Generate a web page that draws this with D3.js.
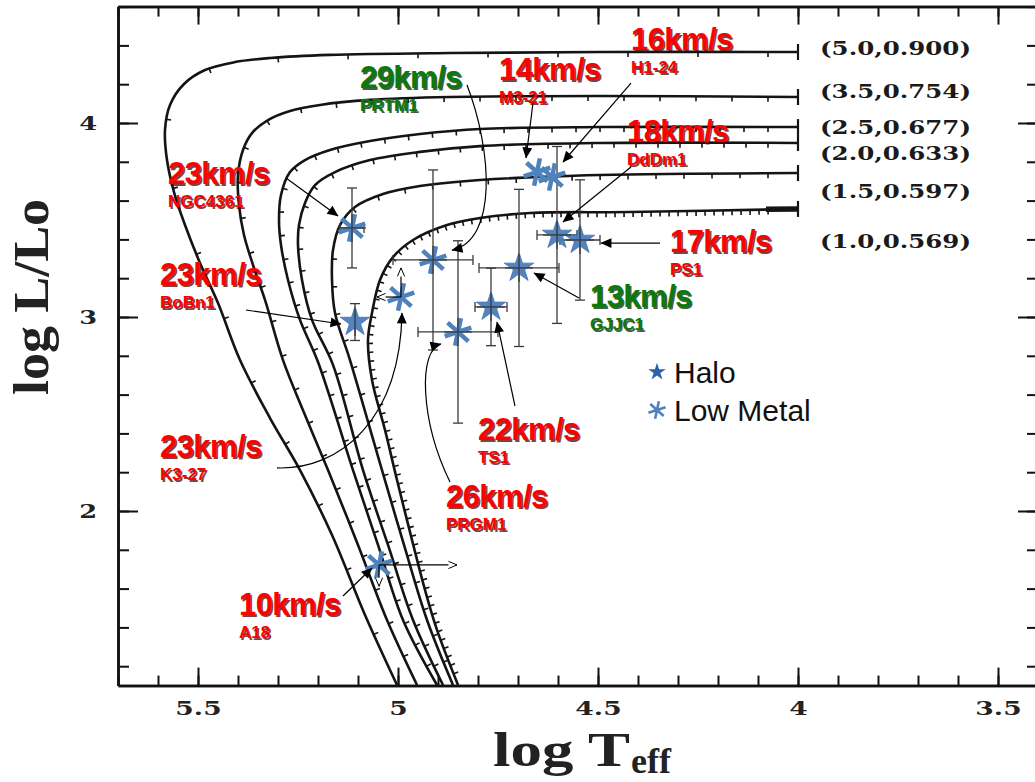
<!DOCTYPE html>
<html>
<head>
<meta charset="utf-8">
<script src="https://cdn.jsdelivr.net/npm/d3@7"></script>
<style>
  body { margin: 0; background: #fff; }
</style>
</head>
<body>
<svg id="hr" width="1035" height="782"></svg>
<script>
// [A] Datos ------------------------------------------------------------------
// Trazas evolutivas post-AGB [logTeff, logL]
const trackNames = ["(5.0,0.900)", "(3.5,0.754)", "(2.5,0.677)", "(2.0,0.633)", "(1.5,0.597)", "(1.0,0.569)"];
const trackLabelL = [4.387, 4.165, 3.979, 3.845, 3.649, 3.392];

const track50 = [[4.0,4.366],[4.495,4.366],[4.87,4.361],[5.17,4.351],[5.32,4.335],[5.4075,4.314],[5.4825,4.273],[5.535,4.201],[5.57,4.093],[5.5825,3.964],[5.5775,3.809],[5.56,3.644],[5.5325,3.474],[5.495,3.278],[5.45,3.072],[5.395,2.778],[5.32,2.479],[5.245,2.211],[5.165,1.876],[5.0825,1.464],[5.0025,1.103]];
const track35 = [[4.0,4.134],[4.495,4.139],[4.87,4.134],[5.07,4.119],[5.195,4.093],[5.27,4.062],[5.325,4.015],[5.365,3.948],[5.3875,3.861],[5.4,3.732],[5.3975,3.577],[5.385,3.423],[5.3625,3.268],[5.3325,3.088],[5.2875,2.778],[5.2325,2.495],[5.175,2.211],[5.1,1.825],[5.0275,1.438],[4.9525,1.103]];
const track25 = [[4.0,3.979],[4.495,3.979],[4.795,3.969],[4.945,3.943],[5.07,3.907],[5.17,3.861],[5.2325,3.809],[5.27,3.747],[5.2925,3.629],[5.2975,3.5],[5.2925,3.371],[5.275,3.191],[5.245,2.985],[5.2,2.768],[5.1125,2.211],[5.05,1.825],[4.9875,1.438],[4.9025,1.103]];
const track20 = [[4.0,3.897],[4.495,3.897],[4.795,3.881],[4.945,3.851],[5.07,3.809],[5.1575,3.747],[5.2075,3.680],[5.2325,3.588],[5.2475,3.474],[5.25,3.371],[5.24,3.191],[5.215,2.985],[5.1625,2.753],[5.0875,2.211],[5.025,1.825],[4.9625,1.438],[4.8875,1.103]];
const track15 = [[4.0,3.742],[4.495,3.732],[4.795,3.706],[4.945,3.675],[5.0375,3.634],[5.1075,3.567],[5.145,3.474],[5.1625,3.345],[5.165,3.191],[5.1575,3.021],[5.12,2.778],[5.04,2.211],[4.985,1.825],[4.9275,1.438],[4.8625,1.103]];
const track10 = [[4.0,3.557],[4.42,3.541],[4.67,3.536],[4.795,3.510],[4.8775,3.474],[4.9625,3.397],[5.0125,3.309],[5.045,3.191],[5.065,3.021],[5.075,2.881],[5.065,2.675],[5.0325,2.418],[5.0025,2.160],[4.965,1.851],[4.9325,1.593],[4.9025,1.387],[4.85,1.103]];
const tracks = [track50, track35, track25, track20, track15, track10];
const thickSegment = [[4.08,3.556],[4.0,3.557]];

// Nebulosas planetarias
const objects  = ["NGC4361","BoBn1","K3-27","PRTM1","PRGM1","TS1","GJJC1","M3-21","H1-24","DdDm1","PS1","A18"];
const kinds    = ["low","halo","low","low","low","halo","halo","low","low","halo","halo","low"];
const logTeff  = [5.115, 5.1075, 4.9925, 4.9125, 4.85, 4.7675, 4.6975, 4.6525, 4.615, 4.6025, 4.545, 5.0475];
const logL     = [3.459, 2.974, 3.103, 3.294, 2.923, 3.052, 3.253, 3.747, 3.722, 3.423, 3.397, 1.722];
const errT     = [0.03, 0, 0, 0.10, 0.10, 0.04, 0.10, 0, 0, 0.05, 0.05, 0];
const errL     = [0.206, 0.095, 0, 0.464, 0.47, 0.2, 0.405, 0, 0, 0.456, 0.31, 0];
const limT     = [0, 0, 0.06, 0, 0, 0, 0, 0, 0, 0, 0, -0.195];   // flechas limite en T
const limL     = [0, 0, 0.15, 0, 0, 0, 0, 0, 0, 0, 0, -0.11];    // flechas limite en L
const velocity = ["23km/s","23km/s","23km/s","29km/s","26km/s","22km/s","13km/s","14km/s","16km/s","18km/s","17km/s","10km/s"];
const velGroup = ["red","red","red","green","red","red","green","red","red","red","red","red"];

// Etiquetas y flechas de anotacion (coordenadas del grafico)
const labelAt = [[5.575,3.686],[5.595,3.165],[5.595,2.278],[5.095,4.180],[4.88,2.021],[4.80,2.366],[4.52,3.052],[4.7475,4.222],[4.4175,4.376],[4.4275,3.902],[4.32,3.335],[5.3975,1.464]];
const arrowPts = [
  [[5.28,3.716],[5.15,3.521]],
  [[5.38,3.036],[5.1425,2.964]],
  [[5.3025,2.222],[5.145,2.211],[4.995,2.469],[4.99,3.021]],
  [[4.8275,4.196],[4.765,3.861],[4.75,3.397],[4.865,3.345]],
  [[4.87,2.149],[4.945,2.469],[4.95,2.830],[4.8925,2.861]],
  [[4.7075,2.541],[4.7525,2.974]],
  [[4.5475,3.098],[4.66,3.227]],
  [[4.6625,4.103],[4.68,3.820]],
  [[4.4175,4.206],[4.5875,3.799]],
  [[4.4175,3.773],[4.5875,3.490]],
  [[4.345,3.381],[4.4925,3.381]],
  [[5.1375,1.562],[5.065,1.706]]
];

// Ejes
const xMajor = [5.5, 5, 4.5, 4, 3.5];
const xMinor = d3.range(34, 58).map(d => d / 10);
const yMajor = [2, 3, 4];
const yMinor = d3.range(6, 24).map(d => d / 5);

const legendNames = ["Halo", "Low Metal"];

// [B] Configuracion ------------------------------------------------------------
const svg = d3.select("#hr");
const x = d3.scaleLinear().domain([5.7, 3.4]).range([118, 1038]);
const y = d3.scaleLinear().domain([1.1, 4.6]).range([685.6, 6.6]);

const colors = { red: "#ff0000", green: "#0b7a0b" };
const shadows = { red: "#5a0000", green: "#052a05" };
const blue = "#4a7ebd";

const defs = svg.append("defs");
defs.append("marker").attr("id", "headFill")
  .attr("viewBox", "0 0 10 10").attr("refX", 9.5).attr("refY", 5)
  .attr("markerWidth", 13).attr("markerHeight", 11)
  .attr("markerUnits", "userSpaceOnUse").attr("orient", "auto")
  .append("path").attr("d", "M0,0.5 L10,5 L0,9.5 Z").attr("fill", "#000");
defs.append("marker").attr("id", "headOpen")
  .attr("viewBox", "0 0 10 10").attr("refX", 9.5).attr("refY", 5)
  .attr("markerWidth", 11).attr("markerHeight", 9)
  .attr("markerUnits", "userSpaceOnUse").attr("orient", "auto")
  .append("path").attr("d", "M0,1 L9.5,5 L0,9").attr("fill", "#fff")
  .attr("stroke", "#000").attr("stroke-width", 1.1);

// [C] Ejes y marco -------------------------------------------------------------
function styleAxis(g) {
  g.select(".domain").attr("stroke", "#111").attr("stroke-width", 2.5);
  g.selectAll(".tick line").attr("stroke", "#111").attr("stroke-width", 2);
}
// etiquetas de los ejes: serif negrita y algo ensanchada, como el original escaneado
function styleLabels(g, size, stretch) {
  g.selectAll("text")
    .attr("font-family", "DejaVu Serif, serif")
    .attr("font-weight", "bold").attr("font-size", size).attr("fill", "#222")
    .each(function () {
      const w = this.getComputedTextLength();
      d3.select(this).attr("textLength", w * stretch).attr("lengthAdjust", "spacingAndGlyphs");
    });
}

const frame = svg.append("g");
// inferior
frame.append("g").attr("transform", `translate(0,${y(1.1)})`)
  .call(d3.axisBottom(x).tickValues(xMinor).tickSize(-10).tickSizeOuter(0).tickFormat(""))
  .call(styleAxis);
frame.append("g").attr("transform", `translate(0,${y(1.1)})`)
  .call(d3.axisBottom(x).tickValues(xMajor).tickSize(-18).tickSizeOuter(0).tickPadding(16).tickFormat(d3.format("")))
  .call(styleAxis)
  .call(g => styleLabels(g, 19, 1.4));
// superior
frame.append("g").attr("transform", `translate(0,${y(4.6)})`)
  .call(d3.axisTop(x).tickValues(xMinor).tickSize(-10).tickSizeOuter(0).tickFormat(""))
  .call(styleAxis);
frame.append("g").attr("transform", `translate(0,${y(4.6)})`)
  .call(d3.axisTop(x).tickValues(xMajor).tickSize(-18).tickSizeOuter(0).tickFormat(""))
  .call(styleAxis);
// izquierdo
frame.append("g").attr("transform", `translate(${x(5.7)},0)`)
  .call(d3.axisLeft(y).tickValues(yMinor).tickSize(-11).tickSizeOuter(0).tickFormat(""))
  .call(styleAxis);
frame.append("g").attr("transform", `translate(${x(5.7)},0)`)
  .call(d3.axisLeft(y).tickValues(yMajor).tickSize(-20).tickSizeOuter(0).tickPadding(21).tickFormat(d3.format("")))
  .call(styleAxis)
  .call(g => styleLabels(g, 19, 1.35));
// derecho
frame.append("g").attr("transform", `translate(1036,0)`)
  .call(d3.axisRight(y).tickValues(yMinor).tickSize(-9).tickSizeOuter(0).tickFormat(""))
  .call(styleAxis);
frame.append("g").attr("transform", `translate(1036,0)`)
  .call(d3.axisRight(y).tickValues(yMajor).tickSize(-18).tickSizeOuter(0).tickFormat(""))
  .call(styleAxis);

// titulos de ejes
svg.append("text")
  .attr("transform", "translate(48,297) rotate(-90)")
  .attr("text-anchor", "middle")
  .attr("font-family", "Liberation Serif, Times New Roman, serif")
  .attr("font-weight", "bold").attr("font-size", 50)
  .attr("textLength", 196).attr("lengthAdjust", "spacingAndGlyphs")
  .attr("fill", "#222")
  .text("log L/Lo");

const xt = svg.append("text")
  .attr("font-family", "Liberation Serif, Times New Roman, serif")
  .attr("font-weight", "bold").attr("fill", "#222");
xt.append("tspan").attr("x", 493).attr("y", 766).attr("font-size", 49)
  .attr("textLength", 137).attr("lengthAdjust", "spacingAndGlyphs").text("log T");
xt.append("tspan").attr("x", 631).attr("y", 773).attr("font-size", 36)
  .attr("textLength", 40).attr("lengthAdjust", "spacingAndGlyphs").text("eff");

// [D] Trazas evolutivas --------------------------------------------------------
const line = d3.line().x(d => x(d[0])).y(d => y(d[1])).curve(d3.curveCatmullRom.alpha(0.5));
const tickSpacing = [70, 36, 24, 22, 28, 9];

const gTracks = svg.append("g");
tracks.forEach((pts, i) => {
  const p = gTracks.append("path").datum(pts)
    .attr("d", line).attr("fill", "none")
    .attr("stroke", "#141414").attr("stroke-width", 2.6);
  // marcas de tiempo a lo largo de la traza
  const node = p.node(), len = node.getTotalLength();
  for (let s = 30; s < len - 8; s += tickSpacing[i]) {
    const a = node.getPointAtLength(s), b = node.getPointAtLength(s + 1);
    const dx = b.x - a.x, dy = b.y - a.y, n = Math.hypot(dx, dy) || 1;
    gTracks.append("line")
      .attr("x1", a.x).attr("y1", a.y)
      .attr("x2", a.x + 5 * dy / n).attr("y2", a.y - 5 * dx / n)
      .attr("stroke", "#141414").attr("stroke-width", 1.6);
  }
  // barra final en logT = 4.0
  gTracks.append("line")
    .attr("x1", x(pts[0][0])).attr("x2", x(pts[0][0]))
    .attr("y1", y(pts[0][1]) - 8).attr("y2", y(pts[0][1]) + 8)
    .attr("stroke", "#141414").attr("stroke-width", 2.2);
  // etiqueta (M, Mc)
  gTracks.append("text")
    .attr("x", x(pts[0][0]) + 22).attr("y", y(trackLabelL[i]))
    .attr("dy", "0.36em")
    .attr("font-family", "DejaVu Serif, serif").attr("font-weight", "bold")
    .attr("font-size", 19).attr("fill", "#1a1a1a")
    .attr("textLength", 151).attr("lengthAdjust", "spacingAndGlyphs")
    .text(trackNames[i]);
});
gTracks.append("path").datum(thickSegment)
  .attr("d", d3.line().x(d => x(d[0])).y(d => y(d[1])))
  .attr("stroke", "#141414").attr("stroke-width", 5.5);

// [E] Barras de error y limites ------------------------------------------------
const gErr = svg.append("g").attr("stroke", "#3a3a3a").attr("stroke-width", 1.3);
objects.forEach((name, i) => {
  const cx = x(logTeff[i]), cy = y(logL[i]);
  if (errL[i] > 0) {
    const y0 = y(logL[i] - errL[i]), y1 = y(logL[i] + errL[i]);
    gErr.append("line").attr("x1", cx).attr("x2", cx).attr("y1", y0).attr("y2", y1);
    gErr.append("line").attr("x1", cx - 5).attr("x2", cx + 5).attr("y1", y0).attr("y2", y0);
    gErr.append("line").attr("x1", cx - 5).attr("x2", cx + 5).attr("y1", y1).attr("y2", y1);
  }
  if (errT[i] > 0) {
    const x0 = x(logTeff[i] + errT[i]), x1 = x(logTeff[i] - errT[i]);
    gErr.append("line").attr("x1", x0).attr("x2", x1).attr("y1", cy).attr("y2", cy);
    gErr.append("line").attr("x1", x0).attr("x2", x0).attr("y1", cy - 5).attr("y2", cy + 5);
    gErr.append("line").attr("x1", x1).attr("x2", x1).attr("y1", cy - 5).attr("y2", cy + 5);
  }
});

// [F] Marcadores ------------------------------------------------------------------
function asteriskPath(r) {
  return [90, 30, 150].map(a => {
    const t = (a + 12) * Math.PI / 180, dx = r * Math.cos(t), dy = r * Math.sin(t);
    return `M${-dx},${-dy}L${dx},${dy}`;
  }).join("");
}
const star = d3.symbol(d3.symbolStar).size(270);
const gPts = svg.append("g");
objects.forEach((name, i) => {
  const g = gPts.append("g").attr("transform", `translate(${x(logTeff[i])},${y(logL[i])})`);
  if (kinds[i] === "halo") {
    g.append("path").attr("d", star()).attr("fill", blue)
      .attr("stroke", "#3c6dab").attr("stroke-width", 0.8).attr("opacity", 0.95);
  } else {
    g.append("path").attr("d", asteriskPath(14)).attr("fill", "none")
      .attr("stroke", "#4f81bd").attr("stroke-width", 4.5);
  }
});

// redibuja las barras sobre los marcadores (cruz fina visible) y flechas limite
objects.forEach((name, i) => {
  const cx = x(logTeff[i]), cy = y(logL[i]);
  if (errL[i] > 0) gPts.append("line").attr("x1", cx).attr("x2", cx)
    .attr("y1", cy - 14).attr("y2", cy + 14).attr("stroke", "#3a3a3a").attr("stroke-width", 1.3);
  if (errT[i] > 0) gPts.append("line").attr("x1", cx - 14).attr("x2", cx + 14)
    .attr("y1", cy).attr("y2", cy).attr("stroke", "#3a3a3a").attr("stroke-width", 1.3);
  if (limT[i] !== 0) gPts.append("line")
    .attr("x1", cx).attr("y1", cy).attr("x2", x(logTeff[i] + limT[i])).attr("y2", cy)
    .attr("stroke", "#000").attr("stroke-width", 1.2).attr("marker-end", "url(#headOpen)");
  if (limL[i] !== 0) gPts.append("line")
    .attr("x1", cx).attr("y1", cy).attr("x2", cx).attr("y2", y(logL[i] + limL[i]))
    .attr("stroke", "#000").attr("stroke-width", 1.2).attr("marker-end", "url(#headOpen)");
});

// [G] Anotaciones --------------------------------------------------------------
const gAnn = svg.append("g");
arrowPts.forEach(pts => {
  const p = pts.map(d => [x(d[0]), y(d[1])]);
  const d = p.length === 4
    ? `M${p[0]}C${p[1]} ${p[2]} ${p[3]}`
    : `M${p[0]}L${p[1]}`;
  gAnn.append("path").attr("d", d).attr("fill", "none")
    .attr("stroke", "#000").attr("stroke-width", 1.2)
    .attr("marker-end", "url(#headFill)");
});

function shadowText(g, str, px, py, size, group) {
  [[1.6, 1.6, shadows[group], 0.75], [0, 0, colors[group], 1]].forEach(([ox, oy, c, op]) => {
    g.append("text").attr("x", px + ox).attr("y", py + oy)
      .attr("font-family", "Liberation Sans, Arial, sans-serif")
      .attr("font-weight", "bold").attr("font-size", size)
      .attr("letter-spacing", size > 20 ? -0.6 : 0)
      .attr("fill", c).attr("opacity", op).text(str);
  });
}
objects.forEach((name, i) => {
  const px = x(labelAt[i][0]), py = y(labelAt[i][1]);
  shadowText(gAnn, velocity[i], px, py, 31, velGroup[i]);
  shadowText(gAnn, name, px, py + 23, 17, velGroup[i]);
});

// [H] Leyenda ---------------------------------------------------------------------
const gLeg = svg.append("g");
legendNames.forEach((name, i) => {
  const ly = 372 + i * 38;
  const m = gLeg.append("g").attr("transform", `translate(657,${ly})`);
  if (i === 0) {
    m.append("path").attr("d", d3.symbol(d3.symbolStar).size(95)()).attr("fill", "#2a62a8");
  } else {
    m.append("path").attr("d", asteriskPath(9)).attr("stroke", "#4f81bd").attr("stroke-width", 2.6);
  }
  gLeg.append("text").attr("x", 674).attr("y", ly + 11)
    .attr("font-family", "Liberation Sans, Arial, sans-serif")
    .attr("font-size", 30).attr("fill", "#111").text(name);
});
</script>
</body>
</html>
